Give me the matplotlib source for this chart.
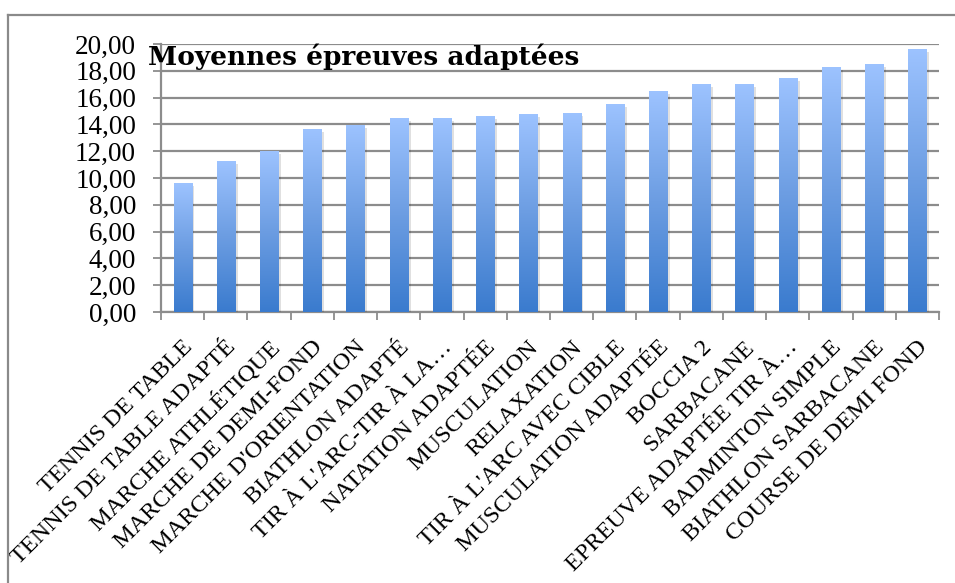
import matplotlib

matplotlib.use("Agg")
import matplotlib.pyplot as plt
import matplotlib.patheffects as pe
import numpy as np
from matplotlib.colors import LinearSegmentedColormap
from matplotlib.lines import Line2D
from matplotlib.transforms import offset_copy

categories = [
    "TENNIS DE TABLE",
    "TENNIS DE TABLE ADAPTÉ",
    "MARCHE ATHLÉTIQUE",
    "MARCHE DE DEMI-FOND",
    "MARCHE D'ORIENTATION",
    "BIATHLON ADAPTÉ",
    "TIR À L'ARC-TIR À LA…",
    "NATATION ADAPTÉE",
    "MUSCULATION",
    "RELAXATION",
    "TIR À L'ARC AVEC CIBLE",
    "MUSCULATION ADAPTÉE",
    "BOCCIA 2",
    "SARBACANE",
    "EPREUVE ADAPTÉE TIR À…",
    "BADMINTON SIMPLE",
    "BIATHLON SARBACANE",
    "COURSE DE DEMI FOND",
]
moyennes = [9.62, 11.28, 12.02, 13.67, 13.97, 14.49, 14.49, 14.64, 14.78,
            14.86, 15.53, 16.50, 17.03, 17.03, 17.48, 18.30, 18.52, 19.64]
yticks = [0, 2, 4, 6, 8, 10, 12, 14, 16, 18, 20]
title = "Moyennes épreuves adaptées"

GRID = "#8c8c8c"
SERIF = ["Liberation Serif", "DejaVu Serif"]

fig = plt.figure(figsize=(9.55, 5.83), dpi=100)
ax = fig.add_axes([161 / 955, 1 - 312 / 583, 778 / 955, 268 / 583])

x = np.arange(len(categories))
bars = ax.bar(x, moyennes, width=0.42, color="none", zorder=3,
              path_effects=[pe.SimplePatchShadow(offset=(2, -2), shadow_rgbFace="#000000", alpha=0.12),
                            pe.Normal()])

# vertical gradient inside each bar
cmap = LinearSegmentedColormap.from_list("xl", ["#3a7bce", "#6c9de2", "#9dc3ff"])
grad = np.linspace(0, 1, 256).reshape(-1, 1)
for b in bars:
    x0, w, h = b.get_x(), b.get_width(), b.get_height()
    im = ax.imshow(grad, cmap=cmap, origin="lower", aspect="auto",
                   extent=(x0, x0 + w, 0, h), zorder=4)
    im.set_clip_path(b)

ax.set_xlim(-0.5, len(categories) - 0.5)
ax.set_ylim(0, 20)
ax.set_yticks(yticks)
ax.set_yticklabels([f"{v:.2f}".replace(".", ",") for v in yticks],
                   fontsize=19.5, family=SERIF)
ax.yaxis.grid(True, color=GRID, lw=1.6, zorder=1)
ax.set_axisbelow(True)

ax.set_xticks(x)
ax.set_xticklabels([])
ax.set_xticks(np.arange(-0.5, len(categories)), minor=True)
ax.tick_params(axis="x", which="major", length=0)
ax.tick_params(axis="x", which="minor", length=6, width=1.3, color=GRID, direction="out")
ax.tick_params(axis="y", length=6, width=1.3, color=GRID, direction="out", pad=12)

for s in ("top", "right"):
    ax.spines[s].set_visible(False)
for s in ("left", "bottom"):
    ax.spines[s].set_color(GRID)
    ax.spines[s].set_linewidth(1.6)

trans = offset_copy(ax.get_xaxis_transform(), fig=fig, x=7, y=-32, units="dots")
for xi, lab in zip(x, categories):
    ax.text(xi, 0, lab, transform=trans, rotation=45, rotation_mode="anchor",
            ha="right", va="center", fontsize=17.5, family=SERIF, clip_on=False)

fig.text(148 / 955, 1 - 65 / 583, title, fontsize=19, fontweight="bold",
         family=["DejaVu Serif"], va="baseline", ha="left", zorder=10)

# outer chart frame (left and top edges visible)
fig.add_artist(Line2D([8 / 955, 8 / 955], [0, 1 - 15 / 583], transform=fig.transFigure,
                      color="#8a8a8a", lw=1.6))
fig.add_artist(Line2D([8 / 955, 1], [1 - 15 / 583, 1 - 15 / 583], transform=fig.transFigure,
                      color="#8a8a8a", lw=1.6))

fig.savefig("out.png", dpi=100)
